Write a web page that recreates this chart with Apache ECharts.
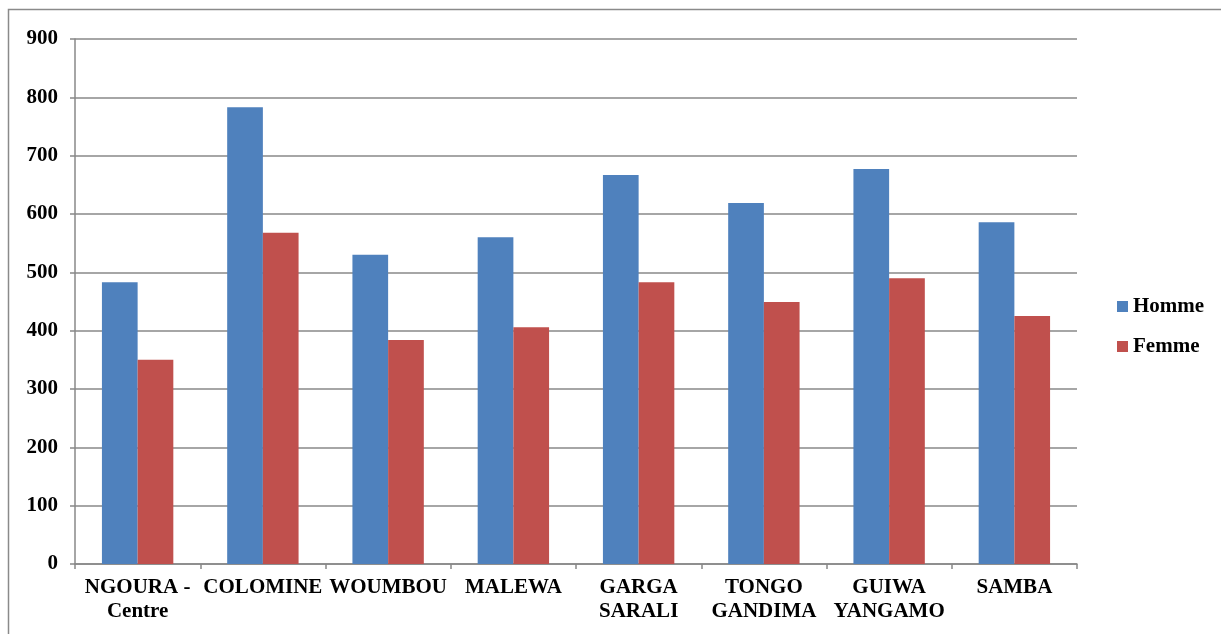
<!DOCTYPE html>
<html><head><meta charset="utf-8">
<script src="https://cdn.jsdelivr.net/npm/echarts@6/dist/echarts.min.js"></script>
<style>html,body{margin:0;padding:0;background:#fff}#c{width:1221px;height:634px}</style>
</head><body><div id="c"></div>
<script>
var categories = ['NGOURA -\nCentre','COLOMINE','WOUMBOU','MALEWA','GARGA\nSARALI','TONGO\nGANDIMA','GUIWA\nYANGAMO','SAMBA'];
var homme = [483, 783, 530, 560, 667, 619, 677, 586];
var femme = [350, 568, 384, 406, 483, 449, 490, 425];
var seriesNames = ['Homme','Femme'];
var font = 'Liberation Serif, Times New Roman, serif';
var chart = echarts.init(document.getElementById('c'));
chart.setOption({
  animation:false,
  graphic:[{type:'rect',shape:{x:8.5,y:9.5,width:1400,height:800},style:{fill:'none',stroke:'#8a8a8a',lineWidth:1.5},silent:true}],
  grid:{left:75,right:144,top:39,bottom:70},
  legend:{orient:'vertical',left:1112,top:291,itemWidth:11,itemHeight:11,itemGap:19,icon:'rect',
    textStyle:{fontFamily:font,fontWeight:'bold',fontSize:21,color:'#000',padding:[0,0,0,0]},
    data:seriesNames},
  xAxis:{type:'category',data:categories,
    axisLine:{lineStyle:{color:'#888',width:1.5}},
    axisTick:{show:true,length:5,lineStyle:{color:'#888',width:1.5}},
    axisLabel:{interval:0,fontFamily:font,fontWeight:'bold',fontSize:21,color:'#000',lineHeight:24,margin:12}},
  yAxis:{type:'value',min:0,max:900,interval:100,
    axisLine:{show:true,lineStyle:{color:'#888',width:1.5}},
    axisTick:{show:true,length:5,lineStyle:{color:'#888',width:1.5}},
    splitLine:{lineStyle:{color:'#888',width:1.5}},
    axisLabel:{fontFamily:font,fontWeight:'bold',fontSize:21,color:'#000',margin:17}},
  series:[
    {name:seriesNames[0],type:'bar',data:homme,barGap:'0%',barCategoryGap:'43%',itemStyle:{color:'#4f81bd'}},
    {name:seriesNames[1],type:'bar',data:femme,itemStyle:{color:'#c0504d'}}
  ]
});
</script></body></html>
